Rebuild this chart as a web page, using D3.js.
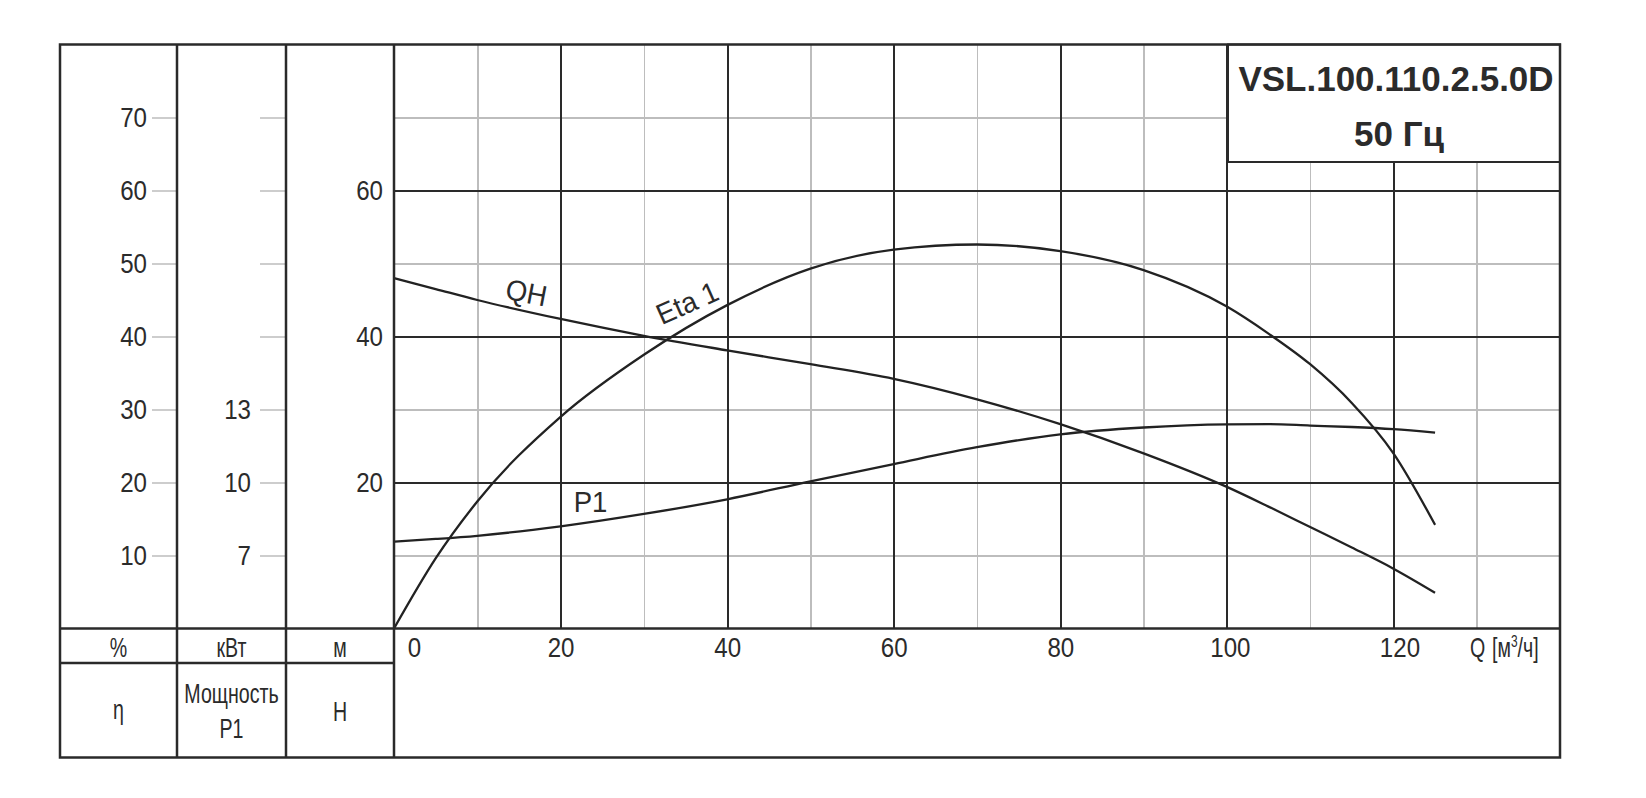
<!DOCTYPE html>
<html lang="ru">
  <head>
    <meta charset="utf-8"/>
    <script src="https://cdn.jsdelivr.net/npm/d3@7"></script>
    <style>
      body {
        margin: 0;
        background: #fff;
      }
      .narrow, .tight, .curveName {
        font-family: "Liberation Sans", Arial, sans-serif;
        font-size: 28px;
        fill: #2b2b2b;
      }
      .curveName {
        font-size: 29px;
      }
      .grid line {
        shape-rendering: crispEdges;
      }
    </style>
  </head>
  <body>
    <script type="text/javascript">
      // data
      var flow = [0, 5, 10, 20, 30, 40, 50, 60, 70, 80, 90, 100, 105, 110, 115, 120, 125];
      var head = [48.0, 46.5, 45.0, 42.4, 40.1, 38.1, 36.2, 34.2, 31.4, 28.0, 24.0, 19.4, 16.7, 13.9, 11.1, 8.2, 4.9];
      var eta = [0, 9.6, 17.4, 29.0, 37.5, 44.3, 49.3, 51.9, 52.6, 51.7, 49.1, 44.1, 40.4, 36.2, 30.9, 24.0, 14.2];
      var power = [7.57, 7.68, 7.81, 8.20, 8.71, 9.31, 10.05, 10.76, 11.45, 11.98, 12.26, 12.39, 12.40, 12.34, 12.28, 12.19, 12.05];

      var qTicks = [0, 20, 40, 60, 80, 100, 120];
      var hTicks = [20, 40, 60];
      var etaTicks = [10, 20, 30, 40, 50, 60, 70];
      var pTicks = [7, 10, 13, 16, 19, 22, 25];
      var pLabels = [7, 10, 13];

      var title1 = "VSL.100.110.2.5.0D";
      var title2 = "50 Гц";

      // layout
      var w = 1646;
      var h = 798;
      var frameL = 60, frameR = 1560, frameT = 44.5, frameB = 757.5;
      var col1 = 177, col2 = 286, plotLeft = 394;
      var axisY = 628.5, unitRow = 663;
      var boxLeft = 1228, boxBottom = 162;

      var svg = d3.select("body")
                  .append("svg")
                  .attr("width", w)
                  .attr("height", h);

      // scales
      var x = d3.scaleLinear().domain([0, 140]).range([plotLeft, frameR]);
      var y = d3.scaleLinear().domain([0, 80]).range([axisY, frameT]);
      var yP = d3.scaleLinear().domain([4, 28]).range([axisY, frameT]);

      // grid: light every 10, dark every 20
      var minorQ = d3.range(10, 140, 20);
      var majorQ = d3.range(20, 140, 20);
      var minorH = [10, 30, 50, 70];

      function grid(axis, tr, color, sw) {
        svg.append("g")
           .attr("class", "grid")
           .attr("transform", tr)
           .call(axis.tickFormat(""))
           .call(function(g) { g.select(".domain").remove(); })
           .selectAll("line").attr("stroke", color).attr("stroke-width", sw);
      }
      grid(d3.axisBottom(x).tickValues(minorQ).tickSize(-(axisY - frameT)), "translate(0," + axisY + ")", "#bdbdbd", 1.5);
      grid(d3.axisLeft(y).tickValues(minorH).tickSize(-(frameR - plotLeft)), "translate(" + plotLeft + ",0)", "#bdbdbd", 1.5);
      grid(d3.axisBottom(x).tickValues(majorQ).tickSize(-(axisY - frameT)), "translate(0," + axisY + ")", "#2a2a2a", 2);
      grid(d3.axisLeft(y).tickValues(hTicks).tickSize(-(frameR - plotLeft)), "translate(" + plotLeft + ",0)", "#2a2a2a", 2);

      // curves
      var series = [head, eta, power];
      var lineH = d3.line().x(function(d, i) { return x(flow[i]); }).y(function(d) { return y(d); }).curve(d3.curveMonotoneX);
      var lineP = d3.line().x(function(d, i) { return x(flow[i]); }).y(function(d) { return yP(d); }).curve(d3.curveMonotoneX);

      svg.selectAll(".curve")
         .data(series)
         .enter()
         .append("path")
         .attr("class", "curve")
         .attr("fill", "none")
         .attr("stroke", "#222")
         .attr("stroke-width", 2.3)
         .attr("d", function(d, i) { return i == 2 ? lineP(d) : lineH(d); });

      // curve names
      svg.append("text").attr("class", "curveName")
         .attr("text-anchor", "middle").attr("dominant-baseline", "central")
         .attr("transform", "translate(" + x(15.9) + "," + y(46) + ") rotate(11)")
         .text("QH");
      svg.append("text").attr("class", "curveName")
         .attr("text-anchor", "middle").attr("dominant-baseline", "central")
         .attr("transform", "translate(" + x(35.2) + "," + y(44.6) + ") rotate(-24)")
         .text("Eta 1");
      svg.append("text").attr("class", "curveName")
         .attr("text-anchor", "middle")
         .attr("x", x(23.6)).attr("y", y(15.9))
         .text("P1");

      // title box
      svg.append("rect")
         .attr("x", boxLeft).attr("y", frameT)
         .attr("width", frameR - boxLeft).attr("height", boxBottom - frameT)
         .attr("fill", "#fff").attr("stroke", "#2a2a2a").attr("stroke-width", 2);
      svg.append("text")
         .attr("x", (boxLeft + frameR) / 2 + 2).attr("y", 90.5)
         .attr("text-anchor", "middle")
         .style("font", "bold 35px 'Liberation Sans', Arial, sans-serif")
         .attr("fill", "#2b2b2b")
         .text(title1);
      svg.append("text")
         .attr("x", (boxLeft + frameR) / 2 + 5).attr("y", 145.5)
         .attr("text-anchor", "middle")
         .style("font", "bold 35px 'Liberation Sans', Arial, sans-serif")
         .attr("fill", "#2b2b2b")
         .text(title2);

      // eta axis
      var etaAxis = svg.append("g")
         .attr("transform", "translate(" + col1 + ",0)")
         .call(d3.axisLeft(y).tickValues(etaTicks).tickSize(25).tickPadding(5));
      // power axis, labels only on the lower ticks
      var pAxis = svg.append("g")
         .attr("transform", "translate(" + col2 + ",0)")
         .call(d3.axisLeft(yP).tickValues(pTicks).tickSize(26).tickPadding(9)
                 .tickFormat(function(d) { return pLabels.indexOf(d) >= 0 ? d : ""; }));
      // head axis
      var hAxis = svg.append("g")
         .attr("transform", "translate(" + plotLeft + ",0)")
         .call(d3.axisLeft(y).tickValues(hTicks).tickSize(0).tickPadding(11));
      // flow axis
      var qAxis = svg.append("g")
         .attr("transform", "translate(0," + axisY + ")")
         .call(d3.axisBottom(x).tickValues(qTicks).tickSize(0).tickPadding(8.5));
      var qShift = {0: 20, 100: 3, 120: 6};
      qAxis.selectAll("text").attr("dx", function(d) { return qShift[d] || 0; });

      [etaAxis, pAxis, hAxis, qAxis].forEach(function(g) {
        g.attr("font-family", null).attr("font-size", null);
        g.select(".domain").remove();
        g.selectAll("line").attr("stroke", "#bdbdbd").attr("stroke-width", 1.5);
        g.selectAll("text").attr("class", "narrow").attr("fill", "#2b2b2b");
      });

      // Q unit label
      svg.append("text").attr("class", "tight")
         .attr("x", 1470).attr("y", 657)
         .text("Q");
      var qUnit = svg.append("text")
         .attr("transform", "translate(1492,657) scale(0.7,1)")
         .style("font", "28px 'Liberation Sans', Arial, sans-serif")
         .attr("fill", "#2b2b2b");
      qUnit.append("tspan").text("[м");
      qUnit.append("tspan").style("font-size", "17px").attr("dy", -10).text("3");
      qUnit.append("tspan").attr("dy", 10).text("/ч]");

      // frame and table lines
      var frame = svg.append("g").attr("stroke", "#2a2a2a").attr("stroke-width", 2.5);
      frame.append("rect")
           .attr("x", frameL).attr("y", frameT)
           .attr("width", frameR - frameL).attr("height", frameB - frameT)
           .attr("fill", "none");
      [col1, col2, plotLeft].forEach(function(cx) {
        frame.append("line").attr("x1", cx).attr("x2", cx).attr("y1", frameT).attr("y2", frameB);
      });
      frame.append("line").attr("x1", frameL).attr("x2", frameR).attr("y1", axisY).attr("y2", axisY);
      frame.append("line").attr("x1", frameL).attr("x2", plotLeft).attr("y1", unitRow).attr("y2", unitRow);

      // units and names under the columns
      var centers = [(frameL + col1) / 2, (col1 + col2) / 2, (col2 + plotLeft) / 2];
      var units = ["%", "кВт", "м"];
      var names = [
        {text: "η", col: 0, y: 719},
        {text: "Мощность", col: 1, y: 703},
        {text: "P1", col: 1, y: 738},
        {text: "H", col: 2, y: 721}
      ];

      svg.selectAll(".unit")
         .data(units)
         .enter()
         .append("text")
         .attr("class", "tight unit")
         .attr("text-anchor", "middle")
         .attr("x", function(d, i) { return centers[i]; })
         .attr("y", 657)
         .text(function(d) { return d; });

      svg.selectAll(".name")
         .data(names)
         .enter()
         .append("text")
         .attr("class", "tight name")
         .attr("text-anchor", "middle")
         .attr("x", function(d) { return centers[d.col]; })
         .attr("y", function(d) { return d.y; })
         .text(function(d) { return d.text; });

      // squeeze texts like a condensed face
      function squeeze(sel, k) {
        sel.each(function() {
          var len = this.getComputedTextLength();
          if (len > 0) {
            d3.select(this).attr("textLength", len * k).attr("lengthAdjust", "spacingAndGlyphs");
          }
        });
      }
      squeeze(svg.selectAll(".narrow"), 0.86);
      squeeze(svg.selectAll(".tight"), 0.7);
      squeeze(svg.selectAll(".curveName"), 0.95);
    </script>
  </body>
</html>
